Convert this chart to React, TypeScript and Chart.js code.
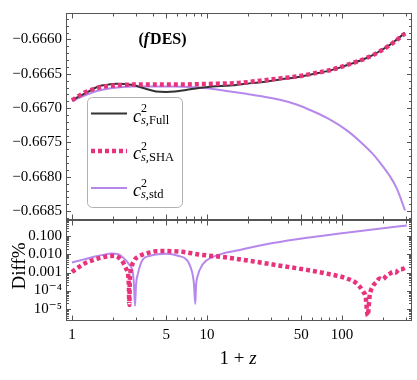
import React, { useEffect, useRef } from 'react';
import { Chart, registerables } from 'chart.js';

Chart.register(...registerables);

// ---------- data ----------
// top panel: c_s^2 vs 1+z
const zFull = [1, 1.25, 1.58, 1.85, 2.12, 2.45, 2.83, 3.47, 4.19, 5, 5.8, 7, 8.7, 11, 14.8, 19.6, 26, 34.7, 46, 61, 81, 108, 143, 169, 190, 226, 254, 293];
const csFull = [-0.666884, -0.666785, -0.666681, -0.666658, -0.666644, -0.666648, -0.666665, -0.666714, -0.666757, -0.666764, -0.666757, -0.666736, -0.666707, -0.666686, -0.666672, -0.666644, -0.66662, -0.666583, -0.66655, -0.666503, -0.666454, -0.666376, -0.666292, -0.666228, -0.666172, -0.66608, -0.666003, -0.665904];

const zSha = [1, 1.25, 1.58, 2.0, 2.83, 4, 5.8, 8.7, 12, 17.2, 26, 34.7, 46, 61, 81, 108, 143, 169, 190, 226, 254, 293];
const csSha = [-0.666884, -0.666771, -0.6667, -0.666672, -0.666658, -0.666658, -0.666658, -0.666651, -0.666644, -0.666634, -0.666596, -0.666567, -0.666541, -0.666497, -0.666449, -0.666373, -0.666292, -0.66623, -0.666175, -0.666084, -0.666008, -0.665912];

const zStd = [1, 1.25, 1.58, 2.0, 2.83, 4, 5.8, 8.7, 11, 14.8, 19.6, 26, 34.7, 46, 61, 81, 108, 143, 169, 190, 226, 254, 293];
const csStd = [-0.666898, -0.666813, -0.666743, -0.666707, -0.666686, -0.666684, -0.666686, -0.6667, -0.666722, -0.666757, -0.666792, -0.666831, -0.666879, -0.666947, -0.667046, -0.667165, -0.667321, -0.667525, -0.667666, -0.667786, -0.66799, -0.668166, -0.66849];

// bottom panel: Diff% vs 1+z
const zDiffSha = [1, 1.1, 1.21, 1.35, 1.5, 1.7, 1.88, 2.05, 2.19, 2.32, 2.43, 2.53, 2.6, 2.64, 2.66, 2.68, 2.74, 2.88, 3.1, 3.36, 3.8, 4.19, 4.97, 6.6, 8.7, 13.1, 17.2, 24.8, 34.7, 55, 77, 108, 128, 143, 150, 155, 160, 169, 180, 190, 200, 215, 228, 238, 250, 262, 283, 302];
const diffSha = [0.00107, 0.0018, 0.0029, 0.0042, 0.0055, 0.007, 0.0083, 0.0084, 0.0072, 0.005, 0.0029, 0.0015, 0.00087, 0.00017, 0.000016, 0.0003, 0.0015, 0.0045, 0.0078, 0.01, 0.013, 0.0152, 0.0155, 0.014, 0.01, 0.0072, 0.0055, 0.0036, 0.0024, 0.0014, 0.00087, 0.00047, 0.00025, 0.00009, 0.00004, 0.000004, 0.000047, 0.00017, 0.0003, 0.00047, 0.00042, 0.0007, 0.0009, 0.00107, 0.001, 0.0014, 0.0016, 0.002];

const zDiffStd = [1, 1.21, 1.43, 1.7, 1.95, 2.2, 2.39, 2.64, 2.83, 2.88, 2.93, 2.98, 3.08, 3.36, 3.8, 4.19, 4.97, 6.2, 7.0, 7.4, 8.0, 8.19, 8.3, 8.5, 9.3, 11, 13.5, 17.8, 30.8, 55, 96, 169, 302];
const diffStd = [0.0036, 0.0052, 0.0072, 0.0095, 0.0114, 0.0105, 0.0067, 0.0029, 0.00087, 0.0002, 0.000014, 0.0002, 0.00087, 0.0055, 0.0085, 0.01, 0.011, 0.0083, 0.0055, 0.0029, 0.00025, 0.000018, 0.0002, 0.00058, 0.0029, 0.0072, 0.012, 0.0185, 0.043, 0.085, 0.145, 0.245, 0.4];

// axes
const xTickValues = [1, 5, 10, 50, 100];
const yTopTickValues = [-0.6685, -0.668, -0.6675, -0.667, -0.6665, -0.666];
const yBotTickValues = [1e-5, 1e-4, 1e-3, 1e-2, 1e-1];
const yBotTickLabels = ['10\u207B\u2075', '10\u207B\u2074', '0.001', '0.010', '0.100'];
const legendLabels = ['Full', 'SHA', 'std'];
const panelLabel = 'DES)';

const FONT = '"Liberation Serif", "DejaVu Serif", serif';
const C_FULL = '#333333';
const C_SHA = '#e8337c';
const C_STD = '#b688ec';
const C_FRAME = '#555555';

const framePlugin = {
  id: 'frame',
  afterDraw(chart: any) {
    const ctx = chart.ctx as CanvasRenderingContext2D;
    const x = chart.scales.x;
    const yt = chart.scales.yTop;
    const yb = chart.scales.yBot;
    const L = chart.chartArea.left;
    const R = chart.chartArea.right;
    ctx.save();
    ctx.strokeStyle = C_FRAME;
    ctx.lineWidth = 1;
    const line = (x1: number, y1: number, x2: number, y2: number) => {
      ctx.beginPath();
      ctx.moveTo(x1, y1);
      ctx.lineTo(x2, y2);
      ctx.stroke();
    };
    const panels = [yt, yb];
    for (const p of panels) {
      const T = Math.round(p.top) + 0.5;
      const B = Math.round(p.bottom) - 0.5;
      ctx.strokeRect(Math.round(L) + 0.5, T, Math.round(R) - Math.round(L) - 1, B - T);
      // x ticks
      for (let e = 0; e <= 2; e++) {
        for (let m = 1; m <= 9; m++) {
          const v = m * Math.pow(10, e);
          const px = Math.round(x.getPixelForValue(v)) + 0.5;
          if (px < L || px > R) continue;
          const major = xTickValues.includes(v);
          const len = major ? 5 : 3;
          line(px, T, px, T + len);
          line(px, B, px, B - len);
        }
      }
    }
    // y top ticks
    for (let k = -6690; k <= -6655; k++) {
      const v = k / 10000;
      const py = Math.round(yt.getPixelForValue(v)) + 0.5;
      if (py < yt.top || py > yt.bottom) continue;
      const len = k % 5 === 0 ? 5 : 3;
      line(L, py, L + len, py);
      line(R, py, R - len, py);
    }
    // y bottom ticks
    for (let e = -6; e <= 0; e++) {
      for (let m = 1; m <= 9; m++) {
        const v = m * Math.pow(10, e);
        const py = Math.round(yb.getPixelForValue(v)) + 0.5;
        if (py < yb.top + 1 || py > yb.bottom - 1) continue;
        const len = m === 1 ? 5 : 3;
        line(L, py, L + len, py);
        line(R, py, R - len, py);
      }
    }

    // legend box
    const bx = 87, by = 97.5, bw = 95, bh = 110, r = 5;
    ctx.fillStyle = '#ffffff';
    ctx.strokeStyle = '#b0b0b0';
    ctx.beginPath();
    ctx.roundRect(bx + 0.5, by, bw, bh, r);
    ctx.fill();
    ctx.stroke();
    const rows = [113.5, 151, 188];
    const styles = [
      { c: C_FULL, w: 2, d: [] as number[] },
      { c: C_SHA, w: 4.5, d: [4, 3] },
      { c: C_STD, w: 2, d: [] as number[] },
    ];
    rows.forEach((ry, i) => {
      const s = styles[i];
      ctx.strokeStyle = s.c;
      ctx.lineWidth = s.w;
      ctx.setLineDash(s.d);
      line(91, ry, 127, ry);
      ctx.setLineDash([]);
      ctx.fillStyle = '#000';
      ctx.textAlign = 'left';
      ctx.textBaseline = 'alphabetic';
      ctx.font = `italic 18px ${FONT}`;
      ctx.fillText('c', 133, ry + 8);
      ctx.font = `12px ${FONT}`;
      ctx.fillText('2', 141, ry - 1.5);
      ctx.font = `italic 12.5px ${FONT}`;
      ctx.fillText('s', 141, ry + 10);
      const sw = ctx.measureText('s').width;
      ctx.font = `12.5px ${FONT}`;
      ctx.fillText(',' + legendLabels[i], 141 + sw, ry + 10);
    });

    // panel label (fDES)
    ctx.fillStyle = '#000';
    ctx.font = `bold 16px ${FONT}`;
    const w1 = ctx.measureText('(').width;
    ctx.font = `italic bold 16px ${FONT}`;
    const w2 = ctx.measureText('f').width;
    ctx.font = `bold 16px ${FONT}`;
    const w3 = ctx.measureText(panelLabel).width;
    let tx = 162 - (w1 + w2 + w3) / 2;
    ctx.textAlign = 'left';
    ctx.fillText('(', tx, 44);
    tx += w1;
    ctx.font = `italic bold 16px ${FONT}`;
    ctx.fillText('f', tx, 44);
    tx += w2 + 1;
    ctx.font = `bold 16px ${FONT}`;
    ctx.fillText(panelLabel, tx, 44);

    // x title "1 + z"
    ctx.font = `19px ${FONT}`;
    const a = '1 + ';
    const wa = ctx.measureText(a).width;
    ctx.font = `italic 19px ${FONT}`;
    const wz = ctx.measureText('z').width;
    const xx = 238 - (wa + wz) / 2;
    ctx.font = `19px ${FONT}`;
    ctx.fillText(a, xx, 364);
    ctx.font = `italic 19px ${FONT}`;
    ctx.fillText('z', xx + wa, 364);

    // y title Diff%
    ctx.save();
    ctx.translate(25, 266);
    ctx.rotate(-Math.PI / 2);
    ctx.font = `19px ${FONT}`;
    ctx.textAlign = 'center';
    ctx.fillText('Diff%', 0, 0);
    ctx.restore();

    ctx.restore();
  },
};

const pts = (xs: number[], ys: number[]) => xs.map((x, i) => ({ x, y: ys[i] }));

export default function App() {
  const ref = useRef<HTMLCanvasElement>(null);
  useEffect(() => {
    const tickFont = { family: FONT, size: 15 };
    const chart = new Chart(ref.current as HTMLCanvasElement, {
      type: 'line',
      data: {
        datasets: [
          { label: 'std', data: pts(zStd, csStd), yAxisID: 'yTop', borderColor: C_STD, borderWidth: 2, order: 3 },
          { label: 'Full', data: pts(zFull, csFull), yAxisID: 'yTop', borderColor: C_FULL, borderWidth: 2, order: 2 },
          { label: 'SHA', data: pts(zSha, csSha), yAxisID: 'yTop', borderColor: C_SHA, borderWidth: 4.5, borderDash: [4, 3], order: 1 },
          { label: 'std diff', data: pts(zDiffStd, diffStd), yAxisID: 'yBot', borderColor: C_STD, borderWidth: 2, order: 3 },
          { label: 'SHA diff', data: pts(zDiffSha, diffSha), yAxisID: 'yBot', borderColor: C_SHA, borderWidth: 4.5, borderDash: [4, 3], order: 1 },
        ] as any,
      },
      options: {
        responsive: false,
        animation: false,
        layout: { padding: { top: 2, right: 5, left: 0, bottom: 0 } },
        plugins: { legend: { display: false }, tooltip: { enabled: false } },
        elements: { point: { radius: 0 }, line: { cubicInterpolationMode: 'monotone', fill: false } },
        scales: {
          x: {
            type: 'logarithmic',
            min: 0.903,
            max: 330,
            position: 'bottom',
            grid: { display: false, drawTicks: false },
            border: { display: false },
            afterBuildTicks: (s: any) => { s.ticks = xTickValues.map((v) => ({ value: v })); },
            afterFit: (s: any) => { s.height = 59; },
            ticks: { font: tickFont, color: '#000', padding: 5, maxRotation: 0, autoSkip: false, callback: (v: any) => String(v) },
          },
          yBot: {
            type: 'logarithmic',
            position: 'left',
            stack: 'panels',
            stackWeight: 104.5,
            min: 2.05e-6,
            max: 0.807,
            grid: { display: false, drawTicks: false },
            border: { display: false },
            afterBuildTicks: (s: any) => { s.ticks = yBotTickValues.map((v) => ({ value: v })); },
            afterFit: (s: any) => { s.width = 66; },
            ticks: {
              font: tickFont, color: '#000', padding: 4, autoSkip: false,
              callback: (v: any) => yBotTickLabels[yBotTickValues.findIndex((t) => Math.abs(Math.log10(t) - Math.log10(v)) < 0.01)],
            },
          },
          yTop: {
            type: 'linear',
            position: 'left',
            stack: 'panels',
            stackWeight: 214.5,
            min: -0.668631,
            max: -0.665615,
            grid: { display: false, drawTicks: false },
            border: { display: false },
            afterBuildTicks: (s: any) => { s.ticks = yTopTickValues.map((v) => ({ value: v })); },
            afterFit: (s: any) => { s.width = 66; },
            ticks: {
              font: tickFont, color: '#000', padding: 4, autoSkip: false,
              callback: (v: any) => Number(v).toFixed(4).replace('-', '\u2212'),
            },
          },
        } as any,
      },
      plugins: [framePlugin],
    });
    return () => chart.destroy();
  }, []);
  return (
    <div style={{ position: 'fixed', left: 0, top: 0, width: 417, height: 380, background: '#fff' }}>
      <canvas ref={ref} width={417} height={380} style={{ display: 'block' }} />
    </div>
  );
}
